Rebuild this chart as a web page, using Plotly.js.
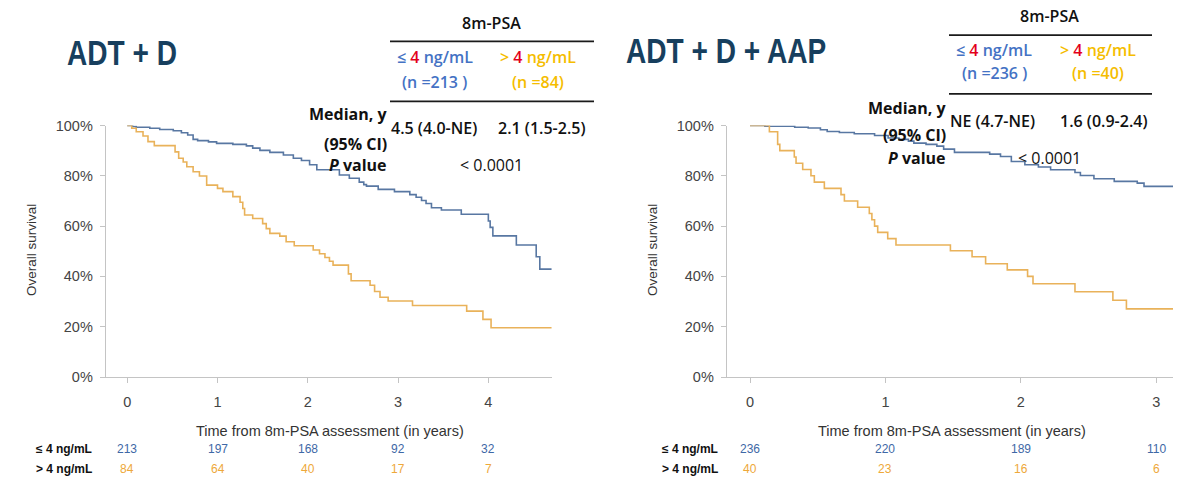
<!DOCTYPE html>
<html>
<head>
<meta charset="utf-8">
<script src="https://cdn.plot.ly/plotly-3.0.1.min.js"></script>
<style>
html,body{margin:0;padding:0;background:#fff}
#chart{width:1200px;height:498px}
.annotation[data-index="0"] text, .annotation[data-index="1"] text{
  transform-box:fill-box; transform-origin:0 50%; transform:scaleX(0.78);
}
</style>
</head>
<body>
<div id="chart"></div>
<script>
// ---------- DATA ----------
// Panel A: ADT + D  (Kaplan-Meier step curves, survival in %)
var adtD_low_t   = [0,0.06,0.10,0.25,0.36,0.51,0.60,0.67,0.73,0.78,0.90,0.99,1.17,1.32,1.39,1.47,1.58,1.73,1.84,1.93,2.02,2.10,2.35,2.46,2.57,2.62,2.65,2.78,2.96,3.13,3.20,3.26,3.31,3.37,3.48,3.70,4.00,4.02,4.05,4.31,4.53,4.57,4.70];
var adtD_low_s   = [100,99.6,99.3,98.9,98.4,97.9,97.1,96.2,94.5,94.0,93.5,92.9,92.5,91.9,91.0,90.1,89.3,88.3,87.0,86.1,84.4,82.4,80.3,79.0,77.5,76.5,75.9,74.6,73.7,72.5,71.5,70.2,69.0,67.3,66.4,64.7,62.0,59.5,56.1,52.5,47.8,42.9,42.9];
var adtD_high_t  = [0,0.05,0.10,0.175,0.23,0.30,0.53,0.57,0.62,0.66,0.73,0.80,0.88,1.00,1.06,1.17,1.25,1.28,1.30,1.39,1.50,1.54,1.58,1.69,1.76,1.85,2.06,2.13,2.19,2.24,2.28,2.45,2.48,2.69,2.74,2.80,2.89,3.16,3.76,3.94,4.03,4.70];
var adtD_high_s  = [100,98.9,97.5,95.8,93.6,92.0,89.5,87.0,85.5,83.6,81.6,79.9,76.3,75.0,73.7,71.7,69.5,67.0,64.4,63.0,61.0,59.0,57.1,56.0,53.8,52.2,50.5,49.0,47.5,46.0,44.5,41.0,38.3,36.5,34.0,31.7,30.2,28.4,26.2,22.9,19.6,19.6];

// Panel B: ADT + D + AAP
var aap_low_t    = [0,0.11,0.33,0.43,0.52,0.57,0.66,0.77,0.92,1.02,1.10,1.17,1.21,1.30,1.38,1.43,1.51,1.77,1.85,1.93,2.03,2.13,2.22,2.40,2.44,2.54,2.69,2.86,2.91,3.13];
var aap_low_s    = [100,99.7,99.3,99.0,98.3,97.6,97.2,96.7,96.0,95.0,94.5,93.8,93.0,92.5,91.8,90.6,89.3,88.6,87.7,85.7,84.4,83.5,82.4,81.3,80.1,78.8,77.8,77.1,75.8,75.8];
var aap_high_t   = [0,0.143,0.204,0.22,0.327,0.34,0.389,0.45,0.475,0.549,0.672,0.697,0.795,0.881,0.90,0.92,0.943,1.017,1.078,1.48,1.64,1.74,1.90,2.05,2.09,2.40,2.68,2.78,3.13];
var aap_high_s   = [100,97.5,92.5,90,87.5,85,82.5,80,77.5,75,72.5,70,67.5,65,62.5,60,57.5,55,52.5,50.2,47.8,45,42.6,40,37.1,33.9,30.5,27.1,27.1];

// Numbers at risk
var adtD_riskTimes = [0,1,2,3,4];
var adtD_riskLow   = [213,197,168,92,32];
var adtD_riskHigh  = [84,64,40,17,7];
var aap_riskTimes  = [0,1,2,3];
var aap_riskLow    = [236,220,189,110];
var aap_riskHigh   = [40,23,16,6];

// Texts
var panelTitles   = ["ADT + D", "ADT + D + AAP"];
var nLabels       = [["(n =213 )","(n =84)"],["(n =236 )","(n =40)"]];
var medianLabels  = [["4.5 (4.0-NE)","2.1 (1.5-2.5)"],["NE (4.7-NE)","1.6 (0.9-2.4)"]];
var pValues       = ["&lt; 0.0001","&lt; 0.0001"];
var yTickVals     = [0,20,40,60,80,100];
var yTickText     = ["0%","20%","40%","60%","80%","100%"];

// ---------- STYLE ----------
var BLUE_LINE = "#5877a2", ORANGE_LINE = "#e9b25a";
var BLUE_NUM = "#3e68a6", ORANGE_NUM = "#eea83a";
var BLUE_HDR = "#4472c4", ORANGE_HDR = "#f5bd00", RED = "#e3001b";
var AX = "Liberation Sans, Arial, sans-serif";
var TAB = "Open Sans, Liberation Sans, sans-serif";
var W = 1200, H = 498;
function px(x){return x/W;}
function py(y){return 1 - y/H;}

function kmTrace(t, s, color, xa, ya){
  return {x:t, y:s, type:"scatter", mode:"lines", line:{shape:"hv", color:color, width:1.6},
          xaxis:xa, yaxis:ya, hoverinfo:"skip", cliponaxis:false};
}
var data = [
  kmTrace(adtD_low_t, adtD_low_s, BLUE_LINE, "x", "y"),
  kmTrace(adtD_high_t, adtD_high_s, ORANGE_LINE, "x", "y"),
  kmTrace(aap_low_t, aap_low_s, BLUE_LINE, "x2", "y2"),
  kmTrace(aap_high_t, aap_high_s, ORANGE_LINE, "x2", "y2")
];

var yDom = [py(377), py(125.5)];
function xAxis(dom, rng, ticks, anchor){
  return {domain:dom, range:rng, tickvals:ticks, ticks:"outside", ticklen:5, tickcolor:"#c4c4c4",
          showline:true, linecolor:"#c4c4c4", linewidth:1.3, showgrid:false, zeroline:false, anchor:anchor,
          tickfont:{family:AX, size:14.5, color:"#444"}, ticklabelstandoff:6, fixedrange:true};
}
function yAxis(dom, anchor){
  return {domain:dom, range:[0,100], tickvals:yTickVals, ticktext:yTickText, ticks:"outside", ticklen:5,
          tickcolor:"#c4c4c4", showline:true, linecolor:"#c4c4c4", linewidth:1.3, showgrid:false,
          zeroline:false, anchor:anchor, tickfont:{family:AX, size:14.5, color:"#444"}, ticklabelstandoff:4, fixedrange:true};
}

var ann = [];
function txt(text, x, y, opts){
  opts = opts || {};
  var f = {family:opts.family||TAB, size:opts.size||16, color:opts.color||"#111", weight:opts.weight||600};
  ann.push({text:text, x:px(x), y:py(y), xref:"paper", yref:"paper", showarrow:false,
            xanchor:opts.xa||"center", yanchor:"middle", textangle:opts.angle||0, font:f});
}

// Panel titles (annotation indices 0 and 1, condensed via CSS)
var TITLE_FONT = "Liberation Sans, Arial, sans-serif";
txt(panelTitles[0], 65, 53, {xa:"left", family:TITLE_FONT, size:36, color:"#173f5e", weight:700});
txt(panelTitles[1], 624, 51, {xa:"left", family:TITLE_FONT, size:36, color:"#173f5e", weight:700});

// Summary tables
var tabs = [
  {psa:[491.8,23], c1:434.5, c2:537.7, hy:57.4, ny:81.5, lblx:389, my1:113.7, my2:144.3, mv:128.2, pv:165.3, l1:41.3, l2:101.4, lx:[390,594], m1:434, m2:541.5},
  {psa:[1049.7,16], c1:994, c2:1097.5, hy:49.8, ny:72.7, lblx:948, my1:108.3, my2:134.7, mv:121, pv:157.7, l1:35.2, l2:93.8, lx:[949,1152], m1:992, m2:1103}
];
var shapes = [];
tabs.forEach(function(T, i){
  txt("8m-PSA", T.psa[0], T.psa[1], {size:16, weight:600});
  txt('<span style="color:'+BLUE_HDR+'">≤ </span><span style="color:'+RED+'">4</span><span style="color:'+BLUE_HDR+'"> ng/mL</span>', T.c1, T.hy, {});
  txt('<span style="color:'+ORANGE_HDR+'">&gt; </span><span style="color:'+RED+'">4</span><span style="color:'+ORANGE_HDR+'"> ng/mL</span>', T.c2, T.hy, {});
  txt(nLabels[i][0], T.c1, T.ny, {color:BLUE_HDR});
  txt(nLabels[i][1], T.c2, T.ny, {color:ORANGE_HDR});
  txt("Median, y", T.lblx, T.my1, {xa:"right", weight:700});
  txt("(95% CI)", T.lblx, T.my2, {xa:"right", weight:700});
  txt(medianLabels[i][0], T.m1, T.mv, {});
  txt(medianLabels[i][1], T.m2, T.mv, {});
  txt("<i>P</i> value", T.lblx, T.pv, {xa:"right", weight:700});
  txt(pValues[i], T.psa[0], T.pv, {weight:400});
  [T.l1, T.l2].forEach(function(ly){
    shapes.push({type:"line", xref:"paper", yref:"paper", x0:px(T.lx[0]), x1:px(T.lx[1]), y0:py(ly), y1:py(ly),
                 line:{color:"#1a1a1a", width:1.8}});
  });
});

// Axis titles
txt("Time from 8m-PSA assessment (in years)", 330, 431, {family:AX, size:14.5, color:"#333", weight:400});
txt("Time from 8m-PSA assessment (in years)", 952, 431, {family:AX, size:14.5, color:"#333", weight:400});
txt("Overall survival", 31, 250, {family:AX, size:13.5, color:"#333", weight:400, angle:-90});
txt("Overall survival", 652, 250, {family:AX, size:13.5, color:"#333", weight:400, angle:-90});

// Numbers at risk
function riskRows(times, low, high, xref, labelX){
  txt("≤ 4 ng/mL", labelX, 449.3, {xa:"right", family:AX, size:12, color:"#111", weight:700});
  txt("&gt; 4 ng/mL", labelX, 468.8, {xa:"right", family:AX, size:12, color:"#111", weight:700});
  times.forEach(function(t, k){
    ann.push({text:String(low[k]), x:t, y:py(449.3), xref:xref, yref:"paper", showarrow:false, xanchor:"center", yanchor:"middle",
              font:{family:AX, size:12, color:BLUE_NUM}});
    ann.push({text:String(high[k]), x:t, y:py(468.8), xref:xref, yref:"paper", showarrow:false, xanchor:"center", yanchor:"middle",
              font:{family:AX, size:12, color:ORANGE_NUM}});
  });
}
riskRows(adtD_riskTimes, adtD_riskLow, adtD_riskHigh, "x", 94);
riskRows(aap_riskTimes, aap_riskLow, aap_riskHigh, "x2", 720);

var layout = {
  width:W, height:H, margin:{l:0, r:0, t:0, b:0}, paper_bgcolor:"#fff", plot_bgcolor:"rgba(0,0,0,0)",
  showlegend:false,
  xaxis: xAxis([px(106), px(552)], [-0.235, 4.705], [0,1,2,3,4], "y"),
  yaxis: yAxis(yDom, "x"),
  xaxis2: xAxis([px(727), px(1173)], [-0.17, 3.124], [0,1,2,3], "y2"),
  yaxis2: yAxis(yDom, "x2"),
  annotations: ann, shapes: shapes
};
Plotly.newPlot("chart", data, layout, {staticPlot:true, displayModeBar:false});
</script>
</body>
</html>
